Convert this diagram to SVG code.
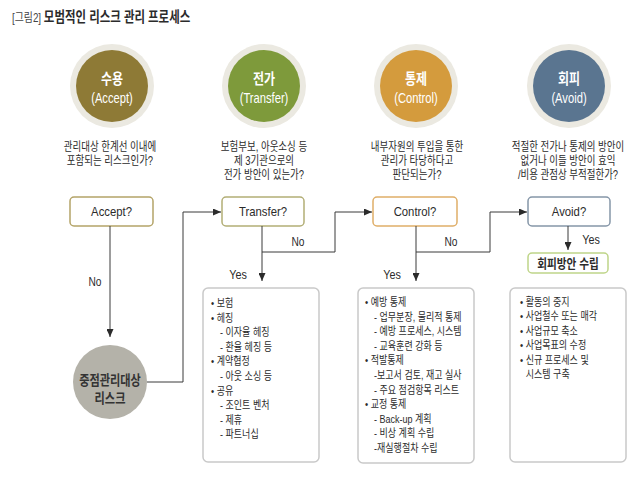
<svg xmlns="http://www.w3.org/2000/svg" width="640" height="481" viewBox="0 0 640 481">
<defs>
<style>
text{font-family:"Liberation Sans","Noto Sans CJK KR",sans-serif;fill:#2b2b2b}
.ring{fill:#ebe9e1}
.cT1{font-size:15px;font-weight:bold;fill:#fff}
.cT2{font-size:14px;fill:#fff}
.desc{font-size:12px;text-anchor:middle}
.dbox{fill:#fff;stroke-width:1.5}
.dT{font-size:13px;text-anchor:middle}
.lbl{font-size:12px;text-anchor:middle}
.lbox{fill:#fff;stroke:#c9c9c9;stroke-width:1.5}
.li{font-size:11px}
.conn{fill:none;stroke:#3a3a3a;stroke-width:1}
</style>
<marker id="arr" viewBox="0 0 8 7" refX="8" refY="3.5" markerWidth="8" markerHeight="7" markerUnits="userSpaceOnUse" orient="auto">
<path d="M0,0 L8,3.5 L0,7 z" fill="#2b2b2b"/>
</marker>
</defs>
<rect width="640" height="481" fill="#fff"/>

<g id="title" transform="translate(12,0) scale(0.79,1)">
<text x="0" y="22.5" style="font-size:14.5px"><tspan style="font-weight:normal;fill:#444;font-size:12.5px">[그림2] </tspan><tspan style="font-weight:bold">모범적인 리스크 관리 프로세스</tspan></text>
</g>

<!-- circles -->
<g id="accept-circle">
<circle cx="112" cy="86" r="42" class="ring"/>
<circle cx="112" cy="86" r="36" fill="#8e7a36"/>
<g transform="translate(112,0) scale(0.8,1)">
<text x="0" y="84" class="cT1" text-anchor="middle">수용</text>
<text x="0" y="103" class="cT2" text-anchor="middle">(Accept)</text>
</g>
<g transform="translate(110,0) scale(0.79,1)">
<text x="0" y="151.5" class="desc">관리대상 한계선 이내에</text>
<text x="0" y="165.5" class="desc">포함되는 리스크인가?</text>
</g>
</g>

<g id="transfer-circle">
<circle cx="264" cy="86" r="42" class="ring"/>
<circle cx="264" cy="86" r="36" fill="#7e9a3b"/>
<g transform="translate(264,0) scale(0.8,1)">
<text x="0" y="84" class="cT1" text-anchor="middle">전가</text>
<text x="0" y="103" class="cT2" text-anchor="middle">(Transfer)</text>
</g>
<g transform="translate(264,0) scale(0.79,1)">
<text x="0" y="151.5" class="desc">보험부보, 아웃소싱 등</text>
<text x="0" y="165.5" class="desc">제 3기관으로의</text>
<text x="0" y="179.5" class="desc">전가 방안이 있는가?</text>
</g>
</g>

<g id="control-circle">
<circle cx="416" cy="86" r="42" class="ring"/>
<circle cx="416" cy="86" r="36" fill="#d49b3d"/>
<g transform="translate(416,0) scale(0.8,1)">
<text x="0" y="84" class="cT1" text-anchor="middle">통제</text>
<text x="0" y="103" class="cT2" text-anchor="middle">(Control)</text>
</g>
<g transform="translate(417,0) scale(0.79,1)">
<text x="0" y="151.5" class="desc">내부자원의 투입을 통한</text>
<text x="0" y="165.5" class="desc">관리가 타당하다고</text>
<text x="0" y="179.5" class="desc">판단되는가?</text>
</g>
</g>

<g id="avoid-circle">
<circle cx="569" cy="86" r="42" class="ring"/>
<circle cx="569" cy="86" r="36" fill="#5a7590"/>
<g transform="translate(569,0) scale(0.8,1)">
<text x="0" y="84" class="cT1" text-anchor="middle">회피</text>
<text x="0" y="103" class="cT2" text-anchor="middle">(Avoid)</text>
</g>
<g transform="translate(568,0) scale(0.79,1)">
<text x="0" y="151.5" class="desc">적절한 전가나 통제의 방안이</text>
<text x="0" y="165.5" class="desc">없거나 이들 방안이 효익</text>
<text x="0" y="179.5" class="desc">/비용 관점상 부적절한가?</text>
</g>
</g>

<!-- decision boxes -->
<g id="accept-q">
<rect x="70" y="197" width="83" height="29" rx="4" class="dbox" stroke="#b4a468"/>
<g transform="translate(111.5,0) scale(0.87,1)"><text x="0" y="216.5" class="dT">Accept?</text></g>
</g>
<g id="transfer-q">
<rect x="222" y="197" width="82" height="29" rx="4" class="dbox" stroke="#b2ae76"/>
<g transform="translate(263,0) scale(0.87,1)"><text x="0" y="216.5" class="dT">Transfer?</text></g>
</g>
<g id="control-q">
<rect x="373" y="197" width="84" height="29" rx="4" class="dbox" stroke="#dfae68"/>
<g transform="translate(415,0) scale(0.87,1)"><text x="0" y="216.5" class="dT">Control?</text></g>
</g>
<g id="avoid-q">
<rect x="528" y="197" width="82" height="29" rx="4" class="dbox" stroke="#8596a8"/>
<g transform="translate(569,0) scale(0.87,1)"><text x="0" y="216.5" class="dT">Avoid?</text></g>
</g>

<g id="avoid-plan">
<rect x="528" y="253" width="80" height="20" rx="4" class="dbox" stroke="#bfd589"/>
<g transform="translate(568,0) scale(0.82,1)"><text x="0" y="268" class="dT" style="font-weight:bold">회피방안 수립</text></g>
</g>

<g id="focus-risk">
<circle cx="110" cy="382" r="37" fill="#b4b2a9"/>
<g transform="translate(110,0) scale(0.8,1)">
<text x="0" y="385" text-anchor="middle" style="font-size:14px;font-weight:bold;fill:#333">중점관리대상</text>
<text x="0" y="403" text-anchor="middle" style="font-size:14px;font-weight:bold;fill:#333">리스크</text>
</g>
</g>

<!-- list boxes -->
<g id="transfer-list">
<rect x="203" y="288" width="116" height="174" rx="5" class="lbox"/>
<g transform="translate(211,0) scale(0.82,1)">
<text x="0" y="307" class="li">• 보험</text>
<text x="0" y="321.6" class="li">• 헤징</text>
<text x="11" y="336.2" class="li">- 이자율 헤징</text>
<text x="11" y="350.8" class="li">- 환율 헤징 등</text>
<text x="0" y="365.4" class="li">• 계약협정</text>
<text x="11" y="380" class="li">- 아웃 소싱 등</text>
<text x="0" y="394.6" class="li">• 공유</text>
<text x="11" y="409.2" class="li">- 조인트 벤처</text>
<text x="11" y="423.8" class="li">- 제휴</text>
<text x="11" y="438.4" class="li">- 파트너십</text>
</g>
</g>

<g id="control-list">
<rect x="358" y="288" width="116" height="175" rx="5" class="lbox"/>
<g transform="translate(365,0) scale(0.82,1)">
<text x="0" y="306" class="li">• 예방 통제</text>
<text x="11" y="320.6" class="li">- 업무분장, 물리적 통제</text>
<text x="11" y="335.2" class="li">- 예방 프로세스, 시스템</text>
<text x="11" y="349.8" class="li">- 교육훈련 강화 등</text>
<text x="0" y="364.4" class="li">• 적발통제</text>
<text x="11" y="379" class="li">-보고서 검토, 재고 실사</text>
<text x="11" y="393.6" class="li">- 주요 점검항목 리스트</text>
<text x="0" y="408.2" class="li">• 교정 통제</text>
<text x="11" y="422.8" class="li">- Back-up 계획</text>
<text x="11" y="437.4" class="li">- 비상 계획 수립</text>
<text x="11" y="452" class="li">-재실행절차 수립</text>
</g>
</g>

<g id="avoid-list">
<rect x="510" y="288" width="116" height="174" rx="5" class="lbox"/>
<g transform="translate(520,0) scale(0.82,1)">
<text x="0" y="306" class="li">• 활동의 중지</text>
<text x="0" y="320.4" class="li">• 사업철수 또는 매각</text>
<text x="0" y="334.8" class="li">• 사업규모 축소</text>
<text x="0" y="349.2" class="li">• 사업목표의 수정</text>
<text x="0" y="363.6" class="li">• 신규 프로세스 및</text>
<text x="7" y="378" class="li">시스템 구축</text>
</g>
</g>

<!-- connectors -->
<g id="connectors">
<path class="conn" d="M110,226 V337" marker-end="url(#arr)"/>
<path class="conn" d="M147,382 H183 V212 H221" marker-end="url(#arr)"/>
<path class="conn" d="M262,226 V281" marker-end="url(#arr)"/>
<path class="conn" d="M262,252 H335 V212 H372" marker-end="url(#arr)"/>
<path class="conn" d="M416,226 V281" marker-end="url(#arr)"/>
<path class="conn" d="M416,252 H490 V212 H527" marker-end="url(#arr)"/>
<path class="conn" d="M568,226 V250" marker-end="url(#arr)"/>
<g transform="translate(95,0) scale(0.85,1)"><text x="0" y="286" class="lbl">No</text></g>
<g transform="translate(298,0) scale(0.85,1)"><text x="0" y="246" class="lbl">No</text></g>
<g transform="translate(238,0) scale(0.9,1)"><text x="0" y="279" class="lbl">Yes</text></g>
<g transform="translate(451,0) scale(0.85,1)"><text x="0" y="246" class="lbl">No</text></g>
<g transform="translate(392,0) scale(0.9,1)"><text x="0" y="279" class="lbl">Yes</text></g>
<g transform="translate(591,0) scale(0.9,1)"><text x="0" y="244" class="lbl">Yes</text></g>
</g>
</svg>
